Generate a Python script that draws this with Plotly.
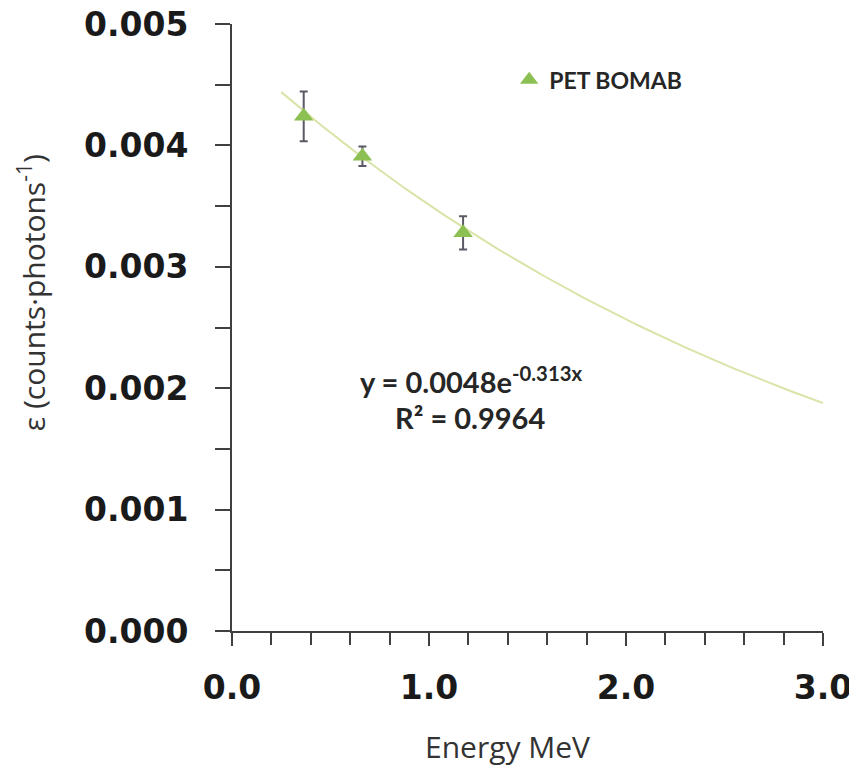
import numpy as np
import plotly.graph_objects as go

# Data
energy_mev = [0.364, 0.662, 1.173]
efficiency = [0.00424, 0.00391, 0.00328]
efficiency_err = [0.000205, 0.00008, 0.000137]

# Exponential fit shown on the chart: y = a * exp(b x)
fit_a = 0.0048
fit_b = -0.313
fit_x_start = 0.25
fit_x_end = 3.0
fit_r2 = 0.9964

x_ticks = [0.0, 1.0, 2.0, 3.0]
y_ticks = [0.000, 0.001, 0.002, 0.003, 0.004, 0.005]

fit_x = np.linspace(fit_x_start, fit_x_end, 200)
fit_y = fit_a * np.exp(fit_b * fit_x)

fig = go.Figure()
fig.add_trace(go.Scatter(
    x=fit_x, y=fit_y, mode="lines",
    line=dict(color="#d9e4a8", width=2),
    showlegend=False, hoverinfo="skip"))
fig.add_trace(go.Scatter(
    x=energy_mev, y=efficiency, mode="markers", name="PET BOMAB",
    marker=dict(symbol="triangle-up", size=17, color="#8dc053"),
    error_y=dict(type="data", array=efficiency_err, visible=True,
                 color="#5a5a66", thickness=2, width=4)))

axis_font = dict(family="DejaVu Sans", size=33, color="#1a1a1a", weight="bold")
# page body has an 8px default margin, so the figure is 8px smaller and offset
fig.update_layout(
    width=849, height=761,
    margin=dict(l=224, r=34, t=16, b=138, autoexpand=False),
    paper_bgcolor="white", plot_bgcolor="white",
    showlegend=True,
    legend=dict(x=0.469, y=0.908, xanchor="left", yanchor="middle",
                bgcolor="rgba(0,0,0,0)",
                font=dict(family="Lato", size=23, color="#262626", weight="bold"),
                itemwidth=30),
    xaxis=dict(range=[0, 3], tickvals=x_ticks, tickformat=".1f",
               ticks="outside", ticklen=13, tickwidth=2, tickcolor="#404040",
               showline=True, linecolor="#404040", linewidth=2,
               showgrid=False, zeroline=False, automargin=False,
               tickfont=axis_font, ticklabeloverflow="allow",
               ticklabelstandoff=13,
               minor=dict(dtick=0.2, ticks="outside", ticklen=12, tickwidth=2,
                          tickcolor="#404040", showgrid=False)),
    yaxis=dict(range=[0, 0.005], tickvals=y_ticks, tickformat=".3f",
               ticks="outside", ticklen=15, tickwidth=2, tickcolor="#404040",
               showline=True, linecolor="#404040", linewidth=2,
               showgrid=False, zeroline=False, automargin=False,
               tickfont=axis_font, ticklabeloverflow="allow",
               ticklabelstandoff=20,
               minor=dict(dtick=0.0005, ticks="outside", ticklen=15, tickwidth=2,
                          tickcolor="#404040", showgrid=False)),
)

# Axis titles
fig.add_annotation(
    x=0.467, y=-0.191, xref="paper", yref="paper", showarrow=False,
    xanchor="center", yanchor="middle",
    text="Energy MeV",
    font=dict(family="Open Sans", size=30, color="#333333"))
fig.add_annotation(
    x=-0.338, y=0.557, xref="paper", yref="paper", showarrow=False,
    xanchor="center", yanchor="middle", textangle=-90,
    text="ε (counts·photons<sup>-1</sup>)",
    font=dict(family="Open Sans", size=30, color="#333333"))

# Fit equation
fig.add_annotation(
    x=0.64, y=0.00207, xref="x", yref="y", showarrow=False,
    xanchor="left", yanchor="middle",
    text=f"y = {fit_a}e<sup>{fit_b}x</sup>",
    font=dict(family="Lato", size=29, color="#262626", weight="bold"))
fig.add_annotation(
    x=0.815, y=0.00176, xref="x", yref="y", showarrow=False,
    xanchor="left", yanchor="middle",
    text=f"R² = {fit_r2}",
    font=dict(family="Lato", size=29, color="#262626", weight="bold"))

fig.write_html("out.html")
